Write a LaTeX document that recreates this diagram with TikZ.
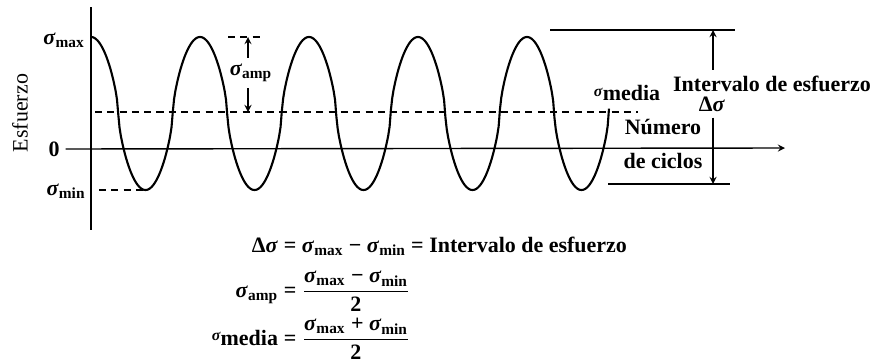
\documentclass[tikz,border=0pt]{standalone}
\usepackage{fontspec}
\setmainfont{Liberation Serif}
\usetikzlibrary{positioning}
\newcommand{\ssub}[1]{\textit{σ}\textsubscript{#1}}
\newcommand{\smedia}{\raisebox{0.4ex}{\small\textit{σ}}media}

\begin{document}
\begin{tikzpicture}[
    x=0.02cm, y=-0.02cm,
    font=\fontsize{12.5}{14}\selectfont\bfseries,
    declare function={cyc(\t)=cos(((\t-91)/109)*360);},
    axis/.style={thick},
    wave/.style={line width=1.2pt, line join=round},
    mean/.style={thick, dash pattern=on 4pt off 3pt},
    arrow/.style={thick, ->, >=stealth},
    bar/.style={thick},
    eqleft/.style={anchor=base east, inner xsep=1.5pt},
    eqright/.style={anchor=base west, inner xsep=1.5pt}
]
\useasboundingbox (0,0) rectangle (877,362);

% --- Axes ---
\coordinate (ytop) at (91,7);
\coordinate (ybot) at (91,230);
\node (zero) at (54,149) {0};
\coordinate (xend) at (785,148);
\draw [axis] (ytop) -- (ybot);
\draw [arrow] (zero.east) -- (xend);

% Axis labels
\node (esf) [rotate=90, font=\fontsize{12.5}{14}\selectfont] at (20,113) {Esfuerzo};
\node (smax) at (64,40) {\ssub{max}};
\node (smin) at (66,191) {\ssub{min}};

% --- Stress curve ---
\draw [wave] plot [domain=91:609, samples=400]
    (\x, {113.5 - 76.5*sign(cyc(\x))*pow(abs(cyc(\x))+0.0001,0.65)});

% Mean and minimum levels
\coordinate (m0) at (95,112);
\coordinate (m1) at (638,112);
\draw [mean] (m0) -- (m1);
\node (media) at (627,93) {\smedia};
\coordinate (n0) at (99,190);
\coordinate (n1) at (146,190);
\draw [mean] (n0) -- (n1);

% --- Amplitude ---
\coordinate (a0) at (228,37);
\coordinate (a1) at (262,37);
\draw [mean] (a0) -- (a1);
\coordinate (atop) at (248,37);
\coordinate (abot) at (248,112);
\node (amp) at (251,73) {\ssub{amp}};
\draw [arrow] (amp.north -| atop) -- (atop);
\draw [arrow] (amp.south -| abot) -- (abot);

% --- Stress range ---
\coordinate (r0) at (550,30);
\coordinate (r1) at (735,30);
\coordinate (r2) at (608,184);
\coordinate (r3) at (730,184);
\draw [bar] (r0) -- (r1);
\draw [bar] (r2) -- (r3);
\coordinate (rtop) at (713,30);
\coordinate (rbot) at (713,184);
\node (intv) at (772,84) {Intervalo de esfuerzo};
\node (dsig) at (712,104) {Δ\textit{σ}};
\draw [arrow] (intv.north -| rtop) -- (rtop);
\draw [arrow] (dsig.south -| rbot) -- (rbot);

\node (num) at (663,127) {Número};
\node (cic) at (663,161) {de ciclos};

% --- Equations ---
\node (eq1l) [eqleft] at (281,252) {Δ\textit{σ}};
\node (eq1r) [eqright] at (281,252) {= \ssub{max} − \ssub{min} = Intervalo de esfuerzo};
\node (eq2l) [eqleft] at (281,297) {\ssub{amp}};
\node (eq2r) [eqright] at (281,297) {= $\displaystyle\frac{\hbox{\ssub{max} − \ssub{min}}}{\hbox{2}}$};
\node (eq3l) [eqleft] at (281,345) {\smedia};
\node (eq3r) [eqright] at (281,345) {= $\displaystyle\frac{\hbox{\ssub{max} + \ssub{min}}}{\hbox{2}}$};

\end{tikzpicture}
\end{document}
